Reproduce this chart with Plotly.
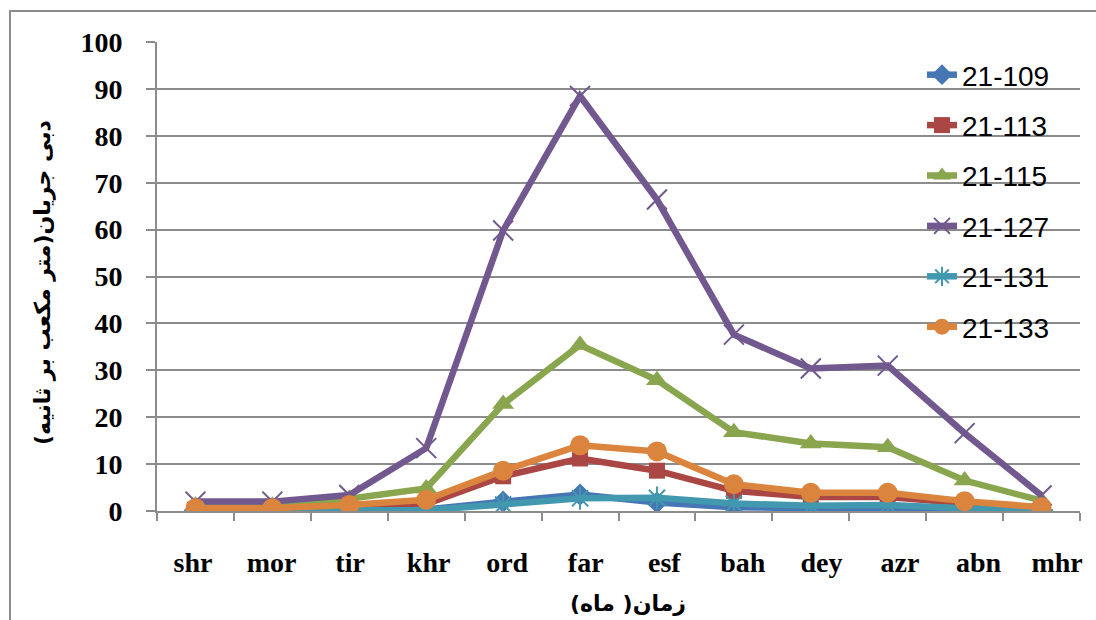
import plotly.graph_objects as go

# Months (abbreviated) on the category axis
months = ["shr", "mor", "tir", "khr", "ord", "far", "esf", "bah", "dey", "azr", "abn", "mhr"]

# Discharge per station (m3/s)
st_21_109 = [0.2, 0.2, 0.3, 0.3, 2.0, 3.5, 1.8, 0.8, 0.6, 0.7, 0.4, 0.1]
st_21_113 = [0.3, 0.3, 0.6, 1.5, 7.4, 11.2, 8.6, 4.3, 3.0, 3.0, 1.5, 0.3]
st_21_115 = [1.1, 1.1, 2.6, 4.8, 22.8, 35.4, 27.9, 16.8, 14.4, 13.6, 6.5, 2.2]
st_21_127 = [2.0, 2.0, 3.4, 13.4, 59.8, 88.5, 66.4, 37.6, 30.4, 31.0, 16.6, 3.3]
st_21_131 = [0.1, 0.1, 0.2, 0.2, 1.4, 2.7, 2.8, 1.6, 1.1, 1.3, 0.6, 0.2]
st_21_133 = [0.6, 0.6, 1.3, 2.4, 8.6, 14.0, 12.7, 5.7, 3.9, 3.9, 2.1, 0.8]

station_names = ["21-109", "21-113", "21-115", "21-127", "21-131", "21-133"]
station_values = [st_21_109, st_21_113, st_21_115, st_21_127, st_21_131, st_21_133]

y_ticks = [0, 10, 20, 30, 40, 50, 60, 70, 80, 90, 100]

styles = {
    "21-109": dict(color="#4676B4", symbol="diamond", size=17, mline=0),
    "21-113": dict(color="#AA4643", symbol="square", size=16, mline=0),
    "21-115": dict(color="#89A54E", symbol="triangle-up", size=19, mline=0),
    "21-127": dict(color="#71588F", symbol="x-thin-open", size=20, mline=2),
    "21-131": dict(color="#4198AF", symbol="asterisk-open", size=19, mline=2),
    "21-133": dict(color="#DB843D", symbol="circle", size=20, mline=0),
}

W, H = 1096, 620
L, R, T, B = 157, 16, 42, 109
pw = W - L - R
ph = H - T - B


def px_x(p):
    return (p - L) / pw


def px_y(p):
    return (H - B - p) / ph


fig = go.Figure()
for name, vals in zip(station_names, station_values):
    s = styles[name]
    fig.add_trace(go.Scatter(
        x=months, y=vals, name=name, mode="lines+markers",
        legendgroup=name,
        line=dict(color=s["color"], width=6.5),
        marker=dict(symbol=s["symbol"], size=s["size"], color=s["color"],
                    line=dict(color=s["color"], width=s["mline"])),
    ))

grid = "#8C8C8C"
tick_font = dict(family="Liberation Serif", size=28, color="black", weight="bold")

fig.update_layout(
    width=W, height=H,
    margin=dict(l=L, r=R, t=T, b=B),
    paper_bgcolor="white", plot_bgcolor="white",
    showlegend=True,
    legend=dict(
        x=px_x(922), y=px_y(50), xanchor="left", yanchor="top",
        bgcolor="rgba(0,0,0,0)", traceorder="grouped", tracegroupgap=11,
        font=dict(family="Liberation Sans", size=28, color="black"),
    ),
    xaxis=dict(
        type="category", categoryarray=months, range=[-0.5, 11.5], showgrid=False,
        showline=True, linecolor=grid, linewidth=2,
        ticks="outside", tickson="boundaries", ticklen=8, tickcolor=grid, tickwidth=2,
        showticklabels=False,
    ),
    # month labels sit on a companion axis with slightly wider spacing
    xaxis2=dict(
        type="category", categoryarray=months, overlaying="x", anchor="y", side="bottom",
        range=[-0.458, 11.292], showgrid=False, showline=False, ticks="",
        tickfont=tick_font, ticklabelstandoff=32,
    ),
    yaxis=dict(
        range=[0, 100], tickvals=y_ticks, showgrid=True, gridcolor=grid, gridwidth=2,
        showline=True, linecolor=grid, linewidth=2, zeroline=False,
        ticks="outside", ticklen=9, tickcolor=grid, tickwidth=2,
        tickfont=tick_font, ticklabelstandoff=18,
    ),
    annotations=[
        dict(text="دبی جریان(متر مکعب بر ثانیه)", xref="paper", yref="paper",
             x=px_x(43), y=px_y(283), xanchor="center", yanchor="middle",
             textangle=-90, showarrow=False,
             font=dict(family="DejaVu Sans", size=22, color="black", weight="bold")),
        dict(text="زمان( ماه)", xref="paper", yref="paper",
             x=px_x(628), y=px_y(603), xanchor="center", yanchor="middle",
             showarrow=False,
             font=dict(family="DejaVu Sans", size=22, color="black", weight="bold")),
    ],
    shapes=[
        dict(type="rect", xref="paper", yref="paper",
             x0=px_x(10), y0=px_y(640), x1=px_x(1110), y1=px_y(11),
             line=dict(color="#8C8C8C", width=2), fillcolor="rgba(0,0,0,0)", layer="below"),
    ],
)

# invisible trace that activates the label axis
fig.add_trace(go.Scatter(x=months, y=[None] * len(months), xaxis="x2", yaxis="y",
                         showlegend=False, hoverinfo="skip"))

fig.write_html("out.html")
